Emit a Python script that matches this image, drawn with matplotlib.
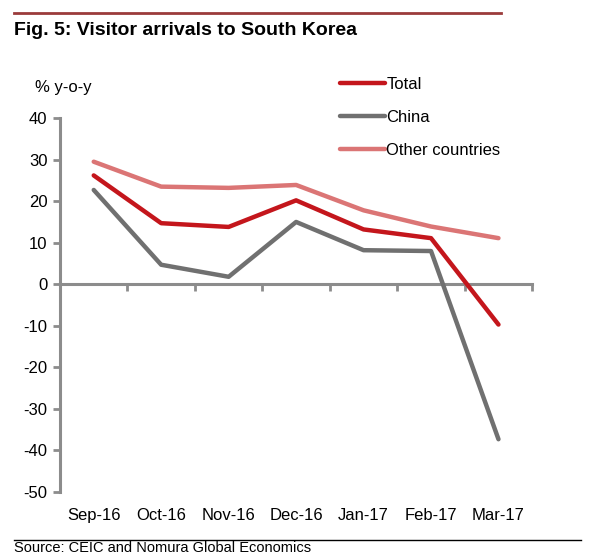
import matplotlib.pyplot as plt
import numpy as np

months = ["Sep-16", "Oct-16", "Nov-16", "Dec-16", "Jan-17", "Feb-17", "Mar-17"]
total = [26.2, 14.7, 13.8, 20.2, 13.2, 11.1, -9.7]
china = [22.7, 4.7, 1.8, 15.0, 8.2, 8.0, -37.3]
other = [29.5, 23.5, 23.2, 23.9, 17.8, 13.9, 11.1]
yticks = [40, 30, 20, 10, 0, -10, -20, -30, -40, -50]

plt.rcParams['font.family'] = ['Liberation Sans', 'DejaVu Sans']

fig = plt.figure(figsize=(6.0, 5.57), dpi=100)
ax = fig.add_axes([0.1, 0.1167, 0.787, 0.6713])

x = np.arange(len(months))
ax.plot(x, other, color='#DB7575', lw=3.2, solid_capstyle='round', label='Other countries', zorder=3)
ax.plot(x, china, color='#707070', lw=3.2, solid_capstyle='round', label='China', zorder=4)
ax.plot(x, total, color='#C4161C', lw=3.2, solid_capstyle='round', label='Total', zorder=5)

ax.set_xlim(-0.5, len(months) - 0.5)
ax.set_ylim(-50, 40)

axis_col = '#8C8C8C'
for s in ['top', 'right']:
    ax.spines[s].set_visible(False)
ax.spines['left'].set_color(axis_col)
ax.spines['left'].set_linewidth(2.2)
ax.spines['bottom'].set_color(axis_col)
ax.spines['bottom'].set_linewidth(2.2)
ax.spines['bottom'].set_position(('data', 0))

ax.set_yticks(yticks)
ax.set_yticklabels([str(v) for v in yticks])
ax.tick_params(axis='y', direction='out', length=5, width=2, color=axis_col,
               labelsize=12, pad=4)
ax.set_xticks(np.arange(len(months) + 1) - 0.5)
ax.set_xticklabels([])
ax.tick_params(axis='x', direction='out', length=5, width=2, color=axis_col)

for i, m in enumerate(months):
    ax.text(i, -0.062, m, transform=ax.get_xaxis_transform(), ha='center', va='center',
            fontsize=12)

# legend
handles, labels = ax.get_legend_handles_labels()
order = [2, 1, 0]
ax.legend([handles[i] for i in order], [labels[i] for i in order],
          loc='upper left', bbox_to_anchor=(0.562, 1.15), frameon=False,
          fontsize=12, handlelength=2.65, handletextpad=0.1, labelspacing=1.08)

fig.text(0.058, 0.843, '% y-o-y', fontsize=12, ha='left', va='center')

# header / footer
fig.add_artist(plt.Line2D([0.023, 0.835], [0.977, 0.977], color='#9B3B3B', lw=2))
fig.text(0.023, 0.945, 'Fig. 5: Visitor arrivals to South Korea', fontsize=14,
         fontweight='bold', ha='left', va='center')
fig.add_artist(plt.Line2D([0.023, 0.968], [0.031, 0.031], color='black', lw=1))
fig.text(0.023, 0.016, 'Source: CEIC and Nomura Global Economics', fontsize=10.5,
         ha='left', va='center')

fig.savefig('out.png', dpi=100)
